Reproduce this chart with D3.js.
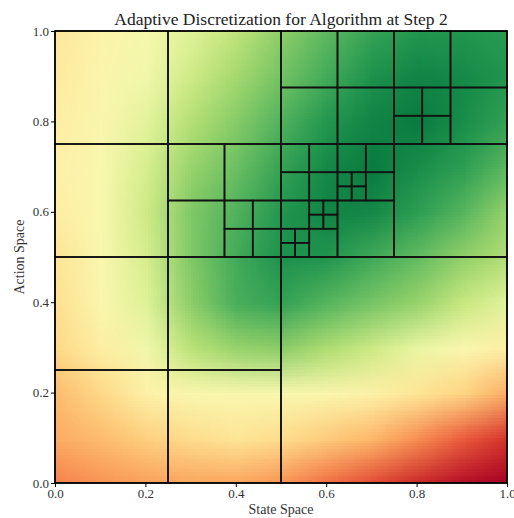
<!DOCTYPE html>
<meta charset="utf-8">

<style>
body { margin: 0; background: #fff; }
text { font-family: "Liberation Serif", "DejaVu Serif", serif; }
.cells rect { fill: none; stroke: #111; stroke-width: 1.6px; }
.axis text { fill: #333; font-size: 13px; }
.axis line { stroke: #000; }
</style>

<svg width="514" height="518"></svg>

<script src="https://cdn.jsdelivr.net/npm/d3@7"></script>

<script>

// value of the heat map (0 = red, 1 = green) on a 0.1 grid
var gridX = [0, 0.1, 0.2, 0.3, 0.4, 0.5, 0.6, 0.7, 0.8, 0.9, 1.0];
var gridY = [1.0, 0.9, 0.8, 0.7, 0.6, 0.5, 0.4, 0.3, 0.2, 0.1, 0.0];
var gridValues = [
  [.43, .47, .51, .58, .65, .74, .81, .87, .90, .90, .89],
  [.44, .48, .53, .62, .70, .78, .85, .91, .94, .93, .90],
  [.45, .49, .57, .67, .75, .83, .90, .94, .96, .92, .87],
  [.46, .50, .60, .72, .79, .87, .93, .96, .92, .88, .81],
  [.45, .50, .62, .76, .83, .90, .94, .93, .88, .82, .72],
  [.42, .50, .60, .76, .85, .91, .90, .85, .80, .73, .67],
  [.41, .49, .58, .74, .84, .87, .82, .77, .72, .63, .57],
  [.39, .45, .53, .66, .72, .74, .68, .62, .55, .50, .45],
  [.33, .39, .46, .50, .50, .50, .49, .46, .42, .38, .30],
  [.30, .33, .37, .40, .42, .40, .36, .32, .25, .17, .10],
  [.23, .26, .28, .29, .29, .26, .20, .14, .08, .03, .00]
];

// leaf cells of the partition: [state start, action start, side]
var cells = [
  [0, 0, 0.25], [0.25, 0, 0.25], [0, 0.25, 0.25], [0.25, 0.25, 0.25],
  [0.5, 0, 0.5],
  [0, 0.5, 0.25], [0, 0.75, 0.25], [0.25, 0.75, 0.25],
  [0.25, 0.5, 0.125], [0.25, 0.625, 0.125], [0.375, 0.625, 0.125],
  [0.375, 0.5, 0.0625], [0.4375, 0.5, 0.0625], [0.375, 0.5625, 0.0625], [0.4375, 0.5625, 0.0625],
  [0.75, 0.5, 0.25],
  [0.5, 0.75, 0.125], [0.625, 0.75, 0.125], [0.5, 0.875, 0.125], [0.625, 0.875, 0.125],
  [0.75, 0.875, 0.125], [0.875, 0.875, 0.125], [0.875, 0.75, 0.125],
  [0.75, 0.75, 0.0625], [0.8125, 0.75, 0.0625], [0.75, 0.8125, 0.0625], [0.8125, 0.8125, 0.0625],
  [0.625, 0.5, 0.125],
  [0.5, 0.625, 0.0625], [0.5625, 0.625, 0.0625], [0.5, 0.6875, 0.0625], [0.5625, 0.6875, 0.0625],
  [0.625, 0.6875, 0.0625], [0.6875, 0.6875, 0.0625], [0.6875, 0.625, 0.0625],
  [0.625, 0.625, 0.03125], [0.65625, 0.625, 0.03125], [0.625, 0.65625, 0.03125], [0.65625, 0.65625, 0.03125],
  [0.5625, 0.5, 0.0625], [0.5, 0.5625, 0.0625],
  [0.5, 0.5, 0.03125], [0.53125, 0.5, 0.03125], [0.5, 0.53125, 0.03125], [0.53125, 0.53125, 0.03125],
  [0.5625, 0.5625, 0.03125], [0.59375, 0.5625, 0.03125], [0.5625, 0.59375, 0.03125], [0.59375, 0.59375, 0.03125]
];

var xTicks = [0, 0.2, 0.4, 0.6, 0.8, 1.0];
var yTicks = [0, 0.2, 0.4, 0.6, 0.8, 1.0];

var svg = d3.select("svg");
var margin = {left: 55, top: 31, right: 7, bottom: 35};
var w = 514 - margin.left - margin.right,
    h = 518 - margin.top - margin.bottom;

var x = d3.scaleLinear().domain([0, 1]).range([margin.left, margin.left + w]);
var y = d3.scaleLinear().domain([0, 1]).range([margin.top + h, margin.top]);

// heat map: one pixel per grid value, the browser smooths it when scaling up
var canvas = document.createElement("canvas");
canvas.width = gridX.length;
canvas.height = gridY.length;
var ctx = canvas.getContext("2d");
gridValues.forEach(function(row, j) {
  row.forEach(function(v, i) {
    ctx.fillStyle = d3.interpolateRdYlGn(v);
    ctx.fillRect(i, j, 1, 1);
  });
});

svg.append("clipPath").attr("id", "plot")
  .append("rect")
    .attr("x", x(0)).attr("y", y(1))
    .attr("width", w).attr("height", h);

var half = 0.05;
svg.append("image")
    .attr("clip-path", "url(#plot)")
    .attr("href", canvas.toDataURL())
    .attr("preserveAspectRatio", "none")
    .attr("x", x(gridX[0] - half))
    .attr("y", y(gridY[0] + half))
    .attr("width", x(1 + half) - x(-half))
    .attr("height", y(-half) - y(1 + half));

svg.append("g").attr("class", "cells")
  .selectAll("rect").data(cells).enter().append("rect")
    .attr("x", function(d) { return x(d[0]); })
    .attr("y", function(d) { return y(d[1] + d[2]); })
    .attr("width", function(d) { return x(d[0] + d[2]) - x(d[0]); })
    .attr("height", function(d) { return y(d[1]) - y(d[1] + d[2]); });

svg.append("rect")
    .attr("x", x(0)).attr("y", y(1))
    .attr("width", w).attr("height", h)
    .attr("fill", "none").attr("stroke", "#000").attr("stroke-width", 1.4);

var xAxis = svg.append("g").attr("class", "axis")
    .attr("transform", "translate(0," + y(0) + ")")
    .call(d3.axisBottom(x).tickValues(xTicks).tickFormat(d3.format(".1f")).tickSize(4).tickPadding(2));
xAxis.select(".domain").remove();
xAxis.selectAll("text").attr("font-family", null);

var yAxis = svg.append("g").attr("class", "axis")
    .attr("transform", "translate(" + x(0) + ",0)")
    .call(d3.axisLeft(y).tickValues(yTicks).tickFormat(d3.format(".1f")).tickSize(4).tickPadding(2));
yAxis.select(".domain").remove();
yAxis.selectAll("text").attr("font-family", null);

svg.append("text")
    .attr("x", x(0.5)).attr("y", 25)
    .attr("text-anchor", "middle")
    .attr("font-size", 17.5).attr("fill", "#222")
    .text("Adaptive Discretization for Algorithm at Step 2");

svg.append("text")
    .attr("x", x(0.5)).attr("y", 514)
    .attr("text-anchor", "middle")
    .attr("font-size", 14).attr("fill", "#333")
    .text("State Space");

svg.append("text")
    .attr("transform", "translate(24," + y(0.5) + ") rotate(-90)")
    .attr("text-anchor", "middle")
    .attr("font-size", 14).attr("fill", "#333")
    .text("Action Space");

</script>
